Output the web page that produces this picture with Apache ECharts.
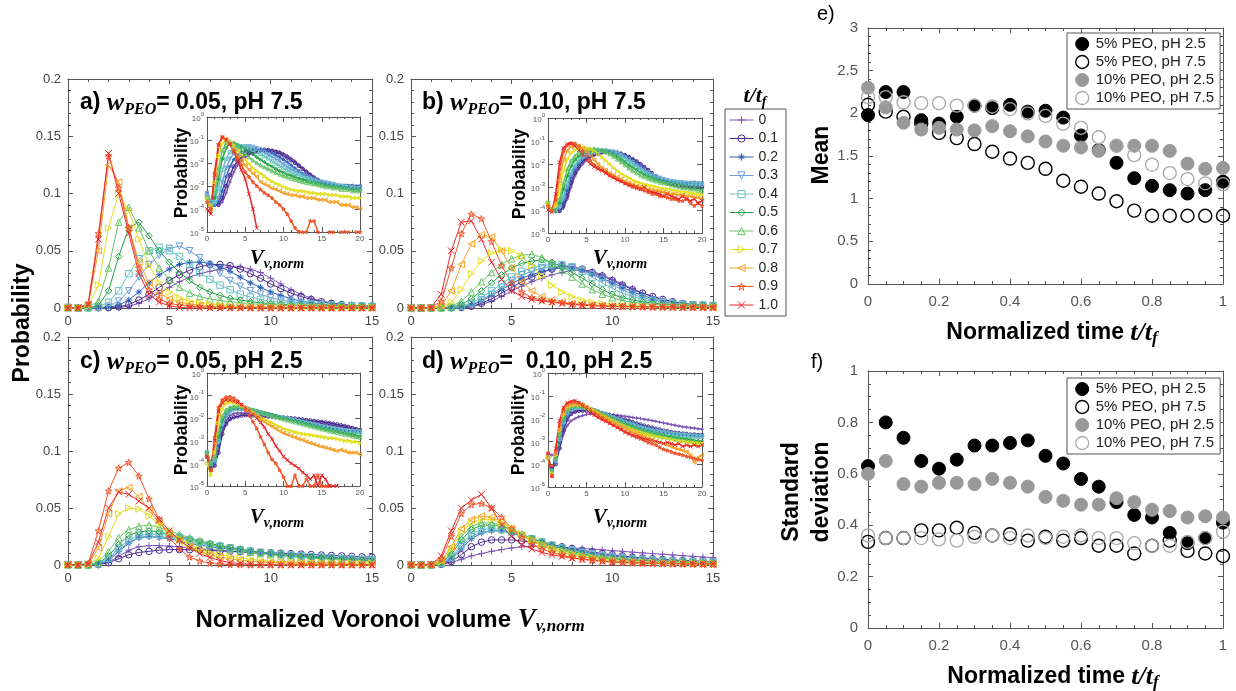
<!DOCTYPE html>
<html>
<head>
<meta charset="utf-8">
<script src="https://cdn.jsdelivr.net/npm/echarts/dist/echarts.min.js"></script>
<style>
html,body{margin:0;padding:0;background:#fff}
#chart{width:1236px;height:691px}
</style>
</head>
<body>
<div id="chart"></div>
<script>
// Normalized Voronoi volume bin centres shared by every distribution
const vnorm = [0,0.5,1,1.5,2,2.5,3,3.5,4,4.5,5,5.5,6,6.5,7,7.5,8,8.5,9,9.5,10,10.5,11,11.5,12,12.5,13,13.5,14,14.5,15,15.5,16,16.5,17,17.5,18,18.5,19,19.5,20];
// Normalized times t/tf, one curve each
const tSteps = ['0','0.1','0.2','0.3','0.4','0.5','0.6','0.7','0.8','0.9','1.0'];
const stepColors = ['#7c55b4','#452a8e','#2f62b8','#6e9ed8','#66c3c0','#22a243','#68c467','#e3df22','#f7a12a','#f05428','#e8262a'];

// Probability per bin, in units of 1e-3 (one row per t/tf)
const distA = [
 [.3,.2,.15,.15,.2,.5,1.5,4,8,13,18,23,27,30,32,34,36,36,34,31,26,21,16,12,8.5,6,4.5,3.3,2.5,2,1.6,1.4,1.2,1.1,1,.9,.9,.8,.8,.7,.7],
 [.4,.2,.15,.15,.3,1,3,7,12,18,24,29,33,36,38,38,37,34,30,26,21,17,13,10,7.5,5.5,4,3,2.3,1.8,1.5,1.3,1.2,1.1,1,1,1,1,1,.9,.9],
 [.5,.2,.15,.2,.6,2.5,7,14,22,29,34,38,40,40,39,36,32,27,22,18,14,11,8,6,4.5,3.5,2.8,2.3,1.9,1.6,1.4,1.3,1.2,1.1,1,1,1,1,.9,1,1],
 [.5,.2,.15,.3,1.5,6,15,27,38,46,52,54,50,44,37,30,24,19,15,12,9,7,5.5,4.5,3.7,3,2.6,2.2,1.9,1.7,1.5,1.4,1.3,1.2,1.1,1,1,.9,.9,.8,.8],
 [.4,.2,.2,.8,5,15,30,43,50,53,50,45,38,31,25,20,16,12,9.5,7.5,6,5,4,3.4,2.9,2.5,2.2,1.9,1.7,1.5,1.4,1.3,1.2,1.1,1,1,.9,.9,.8,.8,.8],
 [.3,.15,.3,2,15,45,70,75,63,50,40,31,24,18,14,11,8.5,7,5.5,4.5,3.8,3.2,2.8,2.4,2.1,1.9,1.7,1.5,1.4,1.3,1.2,1.1,1,.95,.9,.85,.8,.75,.7,.7,.65],
 [.3,.15,.5,6,35,75,88,70,50,35,25,18,13,10,8,6.5,5.5,4.5,3.8,3.2,2.8,2.4,2.1,1.9,1.7,1.5,1.4,1.3,1.2,1.1,1,.9,.9,.8,.8,.7,.7,.7,.6,.6,.6],
 [.3,.15,1.5,20,70,100,85,60,37,22,14,9,6,4.5,3.5,2.7,2,1.6,1.3,1.1,.9,.8,.7,.65,.6,.6,.55,.5,.5,.45,.45,.45,.4,.4,.4,.35,.35,.35,.3,.3,.3],
 [.2,.1,3,50,125,110,70,40,22,13,8,5,3.5,2.5,1.5,1.2,1,.8,.7,.6,.5,.45,.4,.4,.35,.35,.3,.3,.3,.25,.25,.25,.2,.2,.2,.15,.15,.15,.12,.12,.1],
 [.2,.1,4,65,133,105,70,35,16,8,4,2.5,1.5,1,.7,.5,.4,.3,.2,.15,.1,.06,.03,.015,.01,.01,.01,.03,.03,.01,0,0,.01,.01,0,.01,.01,.01,0,.01,.01],
 [.1,.06,3,60,135,100,65,30,12,5,2,.45,.1,.015,0,0,0,0,0,0,0,0,0,0,0,0,0,0,0,0,0,0,0,0,0,0,0,0,0,0,0]
];
const distB = [
 [.2,.1,.09,.09,.12,.3,1,3,6,10,15,19,23,26,29,31,33,33,32,29,25,21,17,13,10,7.5,5.5,4,3,2.3,1.8,1.5,1.3,1.2,1.1,1,1,1,1,1,1],
 [.2,.1,.09,.09,.15,.4,1.5,4,8,13,18,23,27,31,34,37,36,34,31,28,24,20,16,13,10,7.5,5.5,4,3,2.3,1.9,1.6,1.4,1.3,1.2,1.1,1.1,1,1,1,1],
 [.2,.1,.09,.1,.2,.7,2.5,6,11,16,21,26,29,32,34,35,35,33,30,26,22,18,14,11,8,6,4.6,3.6,2.9,2.4,2.1,1.9,1.7,1.6,1.5,1.5,1.5,1.5,1.6,1.5,1.5],
 [.2,.1,.1,.12,.3,1,3.2,7,12,18,24,29,32,35,36,36,35,33,29,25,20,16,12,9,7,5.5,4.3,3.5,2.9,2.5,2.2,2,1.8,1.7,1.6,1.6,1.5,1.5,1.4,1.4,1.4],
 [.2,.1,.1,.15,.4,1.5,4.5,9,15,21,27,32,35,37,38,38,36,32,27,22,17,13,10,7.5,5.8,4.6,3.7,3,2.5,2.2,2,1.8,1.7,1.6,1.5,1.5,1.4,1.4,1.3,1.3,1.3],
 [.2,.1,.1,.2,.8,3,8,15,22,29,35,39,41,42,40,36,31,26,21,16,12,9,7,5.5,4.3,3.5,2.9,2.5,2.1,1.9,1.7,1.5,1.4,1.3,1.2,1.1,1,1,.9,.9,.8],
 [.2,.1,.1,.3,1.5,6,14,23,31,38,43,46,47,44,39,33,27,21,16,12,9,6.5,5,4,3.2,2.7,2.3,2,1.8,1.6,1.5,1.4,1.2,1.1,1,.9,.9,.8,.8,.7,.7],
 [.2,.1,.15,.7,5,16,30,41,48,51,50,45,37,28,20,14,10,7,5,3.8,3,2.5,2,1.7,1.5,1.3,1.2,1.1,1,.9,.85,.8,.75,.7,.65,.6,.6,.55,.5,.5,.45],
 [.15,.1,.2,2,15,38,56,64,62,50,35,23,15,10,7,5.5,4,3.3,2.7,2.2,1.8,1.5,1.3,1.1,1,.9,.8,.75,.7,.65,.6,.55,.5,.5,.45,.45,.4,.4,.35,.35,.3],
 [.15,.1,.3,6,35,65,82,78,58,37,22,14,9,7,5.5,4.5,3.5,2.8,2.2,1.8,1.5,1.2,1,.9,.8,.7,.6,.5,.5,.4,.4,.35,.3,.3,.25,.25,.3,.2,.15,.2,.15],
 [.1,.08,.5,12,50,75,76,60,40,25,15,10,7.5,6,5,4,3,2.5,2,1.7,1.4,1.3,1.1,1,.8,1,.7,.6,.55,.5,.4,.5,.4,.35,.3,.4,.3,.25,.3,.2,.25]
];
const distC = [
 [.2,.06,.08,.4,2.5,7.5,13,16,17,17,16.5,16,15,14.3,13.5,12.8,12,11.4,10.8,10.2,9.7,9.2,8.7,8.2,7.8,7.4,7,6.6,6.2,5.9,5.6,5.2,4.9,4.6,4.3,4,3.8,3.6,3.4,3.2,3],
 [.2,.06,.08,.3,2,5.5,9,11,12,13,13.5,13.5,13.3,13,12.7,12.4,12,11.7,11.4,11,10.7,10.4,10,9.6,9.2,8.8,8.4,8,7.6,7.2,6.9,6.5,6.1,5.7,5.3,4.9,4.5,4.1,3.7,3.3,3],
 [.2,.08,.1,.6,4,12,19,24,25,24,23,21,19,17.5,16,15,14,13,12,11,10.2,9.5,8.8,8.2,7.6,7,6.5,6,5.5,5,4.6,4.2,3.9,3.6,3.3,3.1,2.9,2.7,2.6,2.5,2.4],
 [.3,.1,.12,.8,5,13,20,24,25,25,24,23,21,19,17.5,16,14.5,13,12,11,10,9.3,8.6,8,7.4,6.8,6.2,5.7,5.2,4.8,4.4,4.1,3.8,3.5,3.3,3.1,2.9,2.8,2.7,2.6,2.5],
 [.3,.1,.15,1,6,15,22,26,27,27,26,24,22,20,18,16.5,15,13.5,12,11,10,9.2,8.5,7.8,7.2,6.6,6,5.5,5,4.6,4.2,3.9,3.6,3.4,3.2,3,2.8,2.7,2.6,2.5,2.4],
 [.3,.1,.2,1.5,8,18,26,29,30,29,27,25,23,21,19,17,15.5,14,12.5,11,10,9,8.2,7.5,6.8,6.2,5.6,5,4.5,4.1,3.7,3.4,3.1,2.8,2.6,2.4,2.2,2,1.9,1.7,1.6],
 [.3,.1,.2,2.5,12,24,31,34,35,33,30,27,24,21,18,16,14,12.5,11,10,9,8,7.3,6.6,6,5.4,4.9,4.4,4,3.6,3.3,3,2.7,2.5,2.3,2.1,1.9,1.8,1.6,1.5,1.4],
 [.1,.03,.3,6,25,45,50,49,43,36,29,23,18,14,11,9,7.5,6.2,5,4.2,3.5,3,2.7,2.4,2.2,2,1.9,1.8,1.7,1.6,1.5,1.4,1.3,1.3,1.2,1.1,1,1,.9,.9,.8],
 [.2,.05,.8,15,45,65,68,60,48,37,28,21,16,12,9,7,5.5,4.3,3.4,2.7,2.2,1.9,1.6,1.4,1.2,1.1,.9,.8,.7,.6,.55,.5,.45,.4,.35,.4,.35,.3,.3,.3,.25],
 [.2,.05,1.5,30,65,85,90,78,58,40,24,14,7,3.5,1.5,.7,.3,.15,.1,.05,.025,.01,.01,.03,.01,.01,.02,.01,.01,.03,.01,.01,.01,0,0,0,0,0,0,0,0],
 [.2,.05,1,20,50,64,62,56,50,40,30,22,15,10,6.5,4,2,1.2,.6,.35,.2,.14,.1,.08,.06,.04,.03,.02,.03,.01,.03,.02,.01,.01,.01,0,0,0,0,0,0]
];
const distD = [
 [.3,.25,.3,.5,2,5,8,10,12,13.5,15,16,16.5,16.5,16,15.5,15,14.5,14,13.3,12.6,12,11.3,10.6,10,9.4,8.8,8.2,7.6,7,6.5,6,5.5,5.1,4.7,4.4,4.2,4,3.8,3.6,3.4],
 [.2,.06,.1,.5,3,9,16,20,22,22,22,21,20,19,17.5,16,14.5,13,11.5,10,9,8,7,6.2,5.5,4.9,4.4,4,3.6,3.3,3,2.8,2.6,2.4,2.3,2.2,2.1,2,2,1.9,1.9],
 [.2,.06,.12,.9,5,14,23,28,30,30,28,26,23,20.5,18,15.7,13.7,12,10.4,9,7.8,6.8,6,5.3,4.7,4.2,3.8,3.4,3.1,2.8,2.6,2.4,2.3,2.2,2.1,2,2,1.9,1.9,1.9,1.9],
 [.2,.05,.13,1.1,6,16,25,29,30,30,28,25,22.5,20,17.3,15,13,11.2,9.6,8.3,7.2,6.3,5.5,4.9,4.3,3.9,3.5,3.2,2.9,2.7,2.5,2.35,2.2,2.1,2,1.9,1.85,1.8,1.75,1.7,1.7],
 [.2,.05,.15,1.3,7,18,27,31,32,31,29,26,23,20,17.2,14.7,12.5,10.6,9,7.7,6.6,5.7,5,4.4,3.9,3.5,3.2,2.9,2.7,2.5,2.35,2.2,2.1,2,1.9,1.8,1.75,1.7,1.65,1.6,1.6],
 [.2,.05,.18,1.8,9,22,31,35,35,34,31,27,23.5,20,17,14.2,11.8,9.8,8.2,6.9,5.8,5,4.3,3.8,3.3,3,2.7,2.4,2.2,2,1.85,1.7,1.6,1.5,1.4,1.3,1.25,1.2,1.1,1.05,1],
 [.2,.05,.2,2.2,11,25,34,37,37,35,31,27,23,19,15.5,13,10.7,8.9,7.4,6.2,5.2,4.4,3.8,3.3,2.9,2.6,2.3,2.1,1.9,1.75,1.6,1.5,1.4,1.3,1.2,1.15,1.1,1.05,1,.9,.8],
 [.2,.04,.25,3,14,29,37,40,40,37,32,27,22,18,14.5,12,9.8,8,6.6,5.5,4.6,3.9,3.3,2.9,2.5,2.2,2,1.8,1.6,1.5,1.4,1.3,1.2,1.1,1.05,1,.95,.9,.85,.8,.8],
 [.2,.03,.3,3.5,16,32,40,43,42,38,32,26,21,17,13.5,11,8.8,7,5.7,4.6,3.8,3.1,2.6,2.2,1.9,1.6,1.4,1.2,1,.9,.8,.7,.6,.5,.45,.4,.35,.25,.12,.2,.25],
 [.3,.03,.4,6,25,45,53,54,50,42,32,24,18,14,11,8.5,6.5,5.2,4.2,3.4,2.7,2.2,1.8,1.5,1.3,1.1,.9,.8,.7,.55,.45,.4,.35,.3,.28,.25,.22,.2,.18,.16,.15],
 [.3,.03,.5,8,30,50,57,62,50,35,25,18,14,11,9,7.5,6,5,4,3.3,2.5,2.2,1.9,1.7,1.5,1.3,1.2,1.1,1,.9,.8,.9,.8,.7,.8,.6,.7,.6,.7,.6,.7]
];

// Mean and standard deviation of the distributions against t/tf
const tNorm = [0,0.05,0.1,0.15,0.2,0.25,0.3,0.35,0.4,0.45,0.5,0.55,0.6,0.65,0.7,0.75,0.8,0.85,0.9,0.95,1];
const caseNames = ['5% PEO, pH 2.5','5% PEO, pH 7.5','10% PEO, pH 2.5','10% PEO, pH 7.5'];
const meanP5pH25  = [1.98,2.25,2.25,1.92,1.88,1.96,2.09,2.06,2.10,2.02,2.03,1.95,1.74,1.57,1.42,1.24,1.15,1.10,1.06,1.10,1.20];
const meanP5pH75  = [2.10,2.02,1.96,1.88,1.77,1.71,1.64,1.55,1.47,1.42,1.35,1.21,1.14,1.06,0.97,0.86,0.80,0.80,0.80,0.80,0.80];
const meanP10pH25 = [2.30,2.07,1.89,1.81,1.83,1.81,1.80,1.85,1.79,1.73,1.67,1.62,1.60,1.56,1.62,1.62,1.62,1.56,1.41,1.35,1.36];
const meanP10pH75 = [2.19,2.19,2.13,2.12,2.12,2.09,2.09,2.08,2.05,2.00,1.97,1.88,1.83,1.72,1.62,1.51,1.40,1.30,1.23,1.18,1.17];
const sdP5pH25  = [0.63,0.80,0.74,0.65,0.62,0.655,0.71,0.71,0.72,0.73,0.67,0.64,0.58,0.55,0.49,0.44,0.43,0.37,0.33,0.35,0.41];
const sdP5pH75  = [0.335,0.35,0.35,0.38,0.38,0.39,0.37,0.36,0.365,0.34,0.355,0.34,0.35,0.32,0.32,0.29,0.32,0.34,0.30,0.29,0.28];
const sdP10pH25 = [0.60,0.65,0.56,0.55,0.565,0.565,0.56,0.58,0.565,0.55,0.51,0.495,0.48,0.48,0.505,0.49,0.46,0.455,0.43,0.435,0.43];
const sdP10pH75 = [0.36,0.35,0.35,0.35,0.345,0.34,0.355,0.36,0.35,0.36,0.35,0.355,0.36,0.35,0.35,0.33,0.32,0.32,0.335,0.35,0.375];

const SANS = '"Liberation Sans", Arial, Helvetica, sans-serif';
const SERIF = '"Liberation Serif", "Times New Roman", serif';
const AXIS_COLOR = '#555';
const CLEAR = 'rgba(0,0,0,0)';

// marker per t/tf: + o * v square diamond ^ > < pentagram x
const markers = [
  {symbol:'path://M5,0L5,10M0,5L10,5'},
  {symbol:'circle'},
  {symbol:'path://M5,0L5,10M0,5L10,5M1.5,1.5L8.5,8.5M8.5,1.5L1.5,8.5'},
  {symbol:'triangle', rot:180},
  {symbol:'rect'},
  {symbol:'diamond'},
  {symbol:'triangle'},
  {symbol:'triangle', rot:-90},
  {symbol:'triangle', rot:90},
  {symbol:'path://M5,0L6.2,3.6L10,3.6L6.9,5.8L8.1,9.5L5,7.2L1.9,9.5L3.1,5.8L0,3.6L3.8,3.6Z'},
  {symbol:'path://M0,0L10,10M10,0L0,10'}
];

const grids = [], xAxes = [], yAxes = [], series = [];

function addGrid(left, top, width, height, extra) {
  grids.push(Object.assign({left, top, width, height, containLabel:false}, extra || {}));
  return grids.length - 1;
}

// four axes round a grid (labels on bottom/left only, ticks pointing inward)
function boxAxes(g, xo, yo, xLabel, yLabel, z) {
  const line = {show:true, onZero:false, lineStyle:{color:AXIS_COLOR, width:1}};
  const tick = {show:true, inside:true, length:5, lineStyle:{color:AXIS_COLOR, width:1}};
  const res = {x: xAxes.length, y: yAxes.length};
  ['bottom','top'].forEach((pos, i) => {
    xAxes.push(Object.assign({gridIndex:g, position:pos, axisLine:line, axisTick:tick,
      splitLine:{show:false}, z:z||0,
      axisLabel: i === 0 ? xLabel : {show:false}}, xo));
  });
  ['left','right'].forEach((pos, i) => {
    yAxes.push(Object.assign({gridIndex:g, position:pos, axisLine:line, axisTick:tick,
      splitLine:{show:false}, z:z||0,
      axisLabel: i === 0 ? yLabel : {show:false}}, yo));
  });
  return res;
}

const mainLabel = {color:'#444', fontSize:13, fontFamily:SANS, margin:7};
const insetLabel = {color:'#555', fontSize:8, fontFamily:SANS, margin:3};
const logLabel = {
  color:'#555', fontFamily:SANS, margin:3,
  formatter: v => '{b|10}{e|' + Math.round(Math.log10(v)) + '}',
  rich: {
    b:{fontSize:8, color:'#555', fontFamily:SANS, lineHeight:12, verticalAlign:'bottom'},
    e:{fontSize:6, color:'#555', fontFamily:SANS, lineHeight:7, verticalAlign:'top'}
  }
};
const mainX = {type:'value', min:0, max:15, interval:5, minorTick:{show:true, splitNumber:5, length:3, lineStyle:{color:AXIS_COLOR}}};
const mainY = {type:'value', min:0, max:0.2, interval:0.05, minorTick:{show:true, splitNumber:5, length:3, lineStyle:{color:AXIS_COLOR}}};
const insetX = {type:'value', min:0, max:20, interval:5, minorTick:{show:true, splitNumber:5, length:2, lineStyle:{color:AXIS_COLOR}}};
const insetY = {type:'log', logBase:10, min:1e-5, max:1, splitNumber:5};

// panel placements: main plot and inset
const panelDefs = [
  {rows:distA, main:[68,79,304,229],  inset:[207,117,153,115]},
  {rows:distB, main:[411,79,302,229], inset:[548,118,154,115]},
  {rows:distC, main:[68,337,304,228], inset:[207,373,153,113]},
  {rows:distD, main:[411,337,302,228],inset:[548,373,154,114]}
];

function lineSeries(k, ax, data, size, z, width) {
  const c = stepColors[k], m = markers[k];
  return {
    type:'line', name:tSteps[k], xAxisIndex:ax.x, yAxisIndex:ax.y, data, z,
    symbol:m.symbol, symbolSize:size, symbolRotate:m.rot || 0, showSymbol:true,
    lineStyle:{color:c, width:width}, itemStyle:{color:CLEAR, borderColor:c, borderWidth:1},
    emphasis:{disabled:true}, silent:true, animation:false
  };
}

panelDefs.forEach(p => {
  const gm = addGrid(...p.main);
  const am = boxAxes(gm, mainX, mainY, mainLabel, mainLabel, 0);
  const gi = addGrid(...p.inset, {show:true, backgroundColor:'#fff', borderWidth:0, z:3});
  const ai = boxAxes(gi, insetX, insetY, insetLabel, logLabel, 4);
  p.rows.forEach((row, k) => {
    const mainData = vnorm.filter(x => x <= 15).map((x, i) => [x, row[i] / 1000]);
    series.push(lineSeries(k, am, mainData, 6.5, 2, 1));
  });
  p.rows.forEach((row, k) => {
    const insetData = vnorm.map((x, i) => [x, row[i] > 0 ? row[i] / 1000 : '-']);
    series.push(lineSeries(k, ai, insetData, 3.5, 5, 1.5));
  });
});

// mean (e) and standard deviation (f)
const ge = addGrid(868, 28, 355, 256);
const gf = addGrid(868, 371, 355, 257);
const tLabel = {color:'#555', fontSize:15, fontFamily:SANS, margin:10};
const tX = {type:'value', min:0, max:1, interval:0.2, minorTick:{show:true, splitNumber:4, length:3, lineStyle:{color:AXIS_COLOR}}};
const ae = boxAxes(ge, tX, {type:'value', min:0, max:3, interval:0.5, minorTick:{show:true, splitNumber:5, length:3, lineStyle:{color:AXIS_COLOR}}}, tLabel, tLabel, 0);
const af = boxAxes(gf, tX, {type:'value', min:0, max:1, interval:0.2, minorTick:{show:true, splitNumber:4, length:3, lineStyle:{color:AXIS_COLOR}}}, tLabel, tLabel, 0);

const caseStyles = [
  {color:'#000', borderColor:'#000', borderWidth:1, opacity:1},
  {color:CLEAR, borderColor:'#000', borderWidth:1.4, opacity:1},
  {color:'#999', borderColor:'#999', borderWidth:1, opacity:1},
  {color:CLEAR, borderColor:'#a8a8a8', borderWidth:1.3, opacity:1}
];
const meanSets = [meanP5pH25, meanP5pH75, meanP10pH25, meanP10pH75];
const sdSets = [sdP5pH25, sdP5pH75, sdP10pH25, sdP10pH75];
[[ae, meanSets], [af, sdSets]].forEach(([ax, sets]) => {
  sets.forEach((vals, k) => {
    series.push({
      type:'scatter', name:caseNames[k], xAxisIndex:ax.x, yAxisIndex:ax.y,
      data: tNorm.map((t, i) => [t, vals[i]]), symbol:'circle', symbolSize:13,
      itemStyle: caseStyles[k], emphasis:{disabled:true}, silent:true, animation:false, z:3
    });
  });
});

// rich text styles for labels with italic math symbols and subscripts
function rich(size, mathSize, subSize) {
  return {
    n:{fontFamily:SANS, fontWeight:'bold', fontSize:size, lineHeight:size + 6, verticalAlign:'middle', fill:'#000'},
    m:{fontFamily:SERIF, fontStyle:'italic', fontWeight:'bold', fontSize:mathSize, lineHeight:size + 6, verticalAlign:'middle', fill:'#000'},
    s:{fontFamily:SERIF, fontStyle:'italic', fontWeight:'bold', fontSize:subSize, lineHeight:subSize, verticalAlign:'bottom', fill:'#000'}
  };
}
function label(x, y, text, r, align, rotation) {
  return {type:'text', x, y, rotation:rotation || 0, silent:true, z:10,
    style:{text, rich:r, textAlign:align || 'left', textVerticalAlign:'middle'}};
}
const titleRich = rich(23, 26, 16);
const insetRich = rich(18, 21, 14);
const axisRich = rich(23, 26, 17);
const plain = (x, y, text, size, weight, align, rotation, extra) => ({
  type:'text', x, y, rotation:rotation || 0, silent:true, z:10,
  style:Object.assign({text, fontFamily:SANS, fontSize:size, fontWeight:weight, fill:'#000',
    textAlign:align || 'left', textVerticalAlign:'middle'}, extra || {})
});

const graphics = [
  label(80, 103, '{n|a) }{m|w}{s|PEO}{n|= 0.05, pH 7.5}', titleRich),
  label(422, 103, '{n|b) }{m|w}{s|PEO}{n|= 0.10, pH 7.5}', titleRich),
  label(80, 362, '{n|c) }{m|w}{s|PEO}{n|= 0.05, pH 2.5}', titleRich),
  label(422, 362, '{n|d) }{m|w}{s|PEO}{n|=  0.10, pH 2.5}', titleRich),
  plain(182, 173, 'Probability', 17.5, 'bold', 'center', Math.PI / 2),
  plain(520, 174, 'Probability', 17.5, 'bold', 'center', Math.PI / 2),
  plain(182, 430, 'Probability', 17.5, 'bold', 'center', Math.PI / 2),
  plain(519, 430, 'Probability', 17.5, 'bold', 'center', Math.PI / 2),
  label(277, 259, '{m|V}{s|v,norm}', insetRich, 'center'),
  label(620, 259, '{m|V}{s|v,norm}', insetRich, 'center'),
  label(277, 518, '{m|V}{s|v,norm}', insetRich, 'center'),
  label(620, 518, '{m|V}{s|v,norm}', insetRich, 'center'),
  plain(23, 323, 'Probability', 23, 'bold', 'center', Math.PI / 2),
  label(390, 620, '{n|Normalized Voronoi volume }{m|V}{s|v,norm}', rich(24, 27, 17), 'center'),
  label(755, 96, '{m|t/t}{s|f}', rich(20, 22, 14), 'center'),
  plain(817, 14, 'e)', 20, 'normal', 'left'),
  plain(811, 362, 'f)', 20, 'normal', 'left'),
  plain(822, 155, 'Mean', 23, 'bold', 'center', Math.PI / 2),
  plain(807, 492, 'Standard\ndeviation', 23, 'bold', 'center', Math.PI / 2, {lineHeight:30}),
  label(1052, 333, '{n|Normalized time }{m|t/t}{s|f}', axisRich, 'center'),
  label(1053, 677, '{n|Normalized time }{m|t/t}{s|f}', axisRich, 'center')
];

// legend entries with hollow markers, as drawn in the plots
const stepLegendData = tSteps.map((name, k) => ({
  name, itemStyle:{color:CLEAR, borderColor:stepColors[k], borderWidth:1},
  lineStyle:{color:stepColors[k], width:1}
}));
const caseLegend = top => ({
  data: caseNames.map((name, k) => ({name, itemStyle:caseStyles[k]})),
  orient:'vertical', left:1067, top, itemWidth:13, itemHeight:13, itemGap:2,
  padding:[3,6,3,8], borderColor:AXIS_COLOR, borderWidth:1, backgroundColor:'#fff',
  textStyle:{fontFamily:SANS, fontSize:15, lineHeight:16, color:'#222', padding:[0,0,0,2]}, selectedMode:false, z:8
});

const chart = echarts.init(document.getElementById('chart'), null, {renderer:'canvas'});
chart.setOption({
  backgroundColor:'#fff',
  animation:false,
  grid: grids,
  xAxis: xAxes,
  yAxis: yAxes,
  series,
  legend: [
    {data: stepLegendData, orient:'vertical', left:725, top:109, itemWidth:24, itemHeight:9, itemGap:4.5,
     padding:[4,8,4,4], borderColor:AXIS_COLOR, borderWidth:1, backgroundColor:'#fff',
     textStyle:{fontFamily:SANS, fontSize:14, lineHeight:14, color:'#222'}, selectedMode:false},
    caseLegend(33),
    caseLegend(378)
  ],
  graphic: graphics
});
</script>
</body>
</html>
